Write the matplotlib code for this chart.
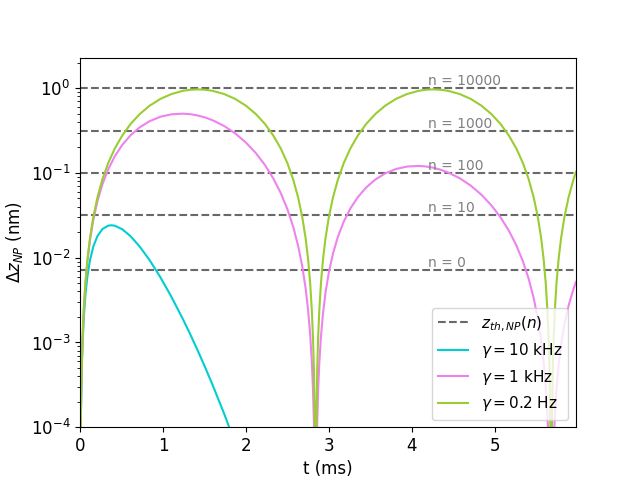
import matplotlib
matplotlib.use("Agg")
import matplotlib.pyplot as plt

# time axis (ms) shared by the two slow curves
t = [0.001, 0.002, 0.004, 0.007, 0.012, 0.02, 0.03, 0.045, 0.065, 0.09, 0.12, 0.16, 0.21,
     0.27, 0.34, 0.42, 0.51, 0.61, 0.72, 0.84, 0.97, 1.1, 1.24, 1.33, 1.42,
     1.51, 1.60, 1.74, 1.87, 2.00, 2.12, 2.23, 2.33, 2.42, 2.50, 2.57, 2.63, 2.68, 2.72,
     2.75, 2.775, 2.795, 2.81, 2.82, 2.828, 2.833, 2.836, 2.838, 2.839,
     2.841, 2.842, 2.844, 2.847, 2.852, 2.86, 2.87, 2.885, 2.905, 2.93, 2.96, 3.00, 3.05,
     3.11, 3.18, 3.26, 3.35, 3.45, 3.56, 3.68, 3.81, 3.94, 4.08, 4.17, 4.26,
     4.35, 4.44, 4.58, 4.71, 4.84, 4.96, 5.07, 5.17, 5.26, 5.34, 5.41, 5.47, 5.52, 5.56,
     5.59, 5.615, 5.635, 5.65, 5.66, 5.668, 5.673, 5.676, 5.678, 5.679,
     5.681, 5.682, 5.684, 5.687, 5.692, 5.70, 5.71, 5.725, 5.745, 5.77, 5.80, 5.84, 5.89,
     5.95, 5.98]

dz_green = [1.19e-6, 4.75e-6, 1.90e-5, 5.82e-5, 1.71e-4, 4.75e-4, 1.07e-3, 2.40e-3, 5.01e-3,
            9.58e-3, 0.0170, 0.0301, 0.0514, 0.0840, 0.131, 0.195, 0.277, 0.379, 0.496, 0.623,
            0.749, 0.853, 0.932, 0.960, 0.970,
            0.960, 0.932, 0.853, 0.749, 0.623, 0.496, 0.379, 0.277, 0.195, 0.131, 0.0840,
            0.0514, 0.0301, 0.0170, 9.58e-3, 5.01e-3, 2.40e-3, 1.07e-3, 4.75e-4, 1.71e-4,
            5.82e-5, 1.90e-5, 4.75e-6, 1.19e-6,
            1.19e-6, 4.75e-6, 1.90e-5, 5.82e-5, 1.71e-4, 4.75e-4, 1.07e-3, 2.40e-3, 5.01e-3,
            9.58e-3, 0.0170, 0.0301, 0.0514, 0.0840, 0.131, 0.195, 0.277, 0.379, 0.496, 0.623,
            0.749, 0.853, 0.932, 0.960, 0.970,
            0.960, 0.932, 0.853, 0.749, 0.623, 0.496, 0.379, 0.277, 0.195, 0.131, 0.0840,
            0.0514, 0.0301, 0.0170, 9.58e-3, 5.01e-3, 2.40e-3, 1.07e-3, 4.75e-4, 1.71e-4,
            5.82e-5, 1.90e-5, 4.75e-6, 1.19e-6,
            1.19e-6, 4.75e-6, 1.90e-5, 5.82e-5, 1.71e-4, 4.75e-4, 1.07e-3, 2.40e-3, 5.01e-3,
            9.58e-3, 0.0170, 0.0301, 0.0514, 0.0840, 0.103]

dz_magenta = [1.19e-6, 4.74e-6, 1.895e-5, 5.80e-5, 1.699e-4, 4.70e-4, 1.052e-3, 2.349e-3,
              4.846e-3, 9.161e-3, 0.0160, 0.02776, 0.04629, 0.07338, 0.1104, 0.1579, 0.2149,
              0.2791, 0.3459, 0.4090, 0.4611, 0.4924, 0.5014, 0.4939, 0.4769,
              0.4514, 0.4188, 0.3576, 0.2940, 0.2290, 0.1718, 0.1241, 0.0865, 0.05807, 0.03749,
              0.02324, 0.01380, 7.873e-3, 4.362e-3, 2.423e-3, 1.250e-3, 5.938e-4, 2.620e-4,
              1.159e-4, 4.155e-5, 1.410e-5, 4.598e-6, 1.149e-6, 2.870e-7,
              2.876e-7, 1.146e-6, 4.580e-6, 1.402e-5, 4.106e-5, 1.136e-4, 2.543e-4, 5.678e-4,
              1.171e-3, 2.214e-3, 3.868e-3, 6.709e-3, 0.01119, 0.01774, 0.02669, 0.03816,
              0.05194, 0.06745, 0.08360, 0.09887, 0.1114, 0.1190, 0.1212, 0.1194, 0.1153,
              0.1091, 0.1012, 0.08643, 0.07106, 0.05535, 0.04152, 0.02999, 0.02091, 0.01404,
              9.061e-3, 5.617e-3, 3.335e-3, 1.903e-3, 1.054e-3, 5.856e-4, 3.021e-4, 1.435e-4,
              6.333e-5, 2.801e-5, 1.004e-5, 3.408e-6, 1.111e-6, 2.777e-7, 6.937e-8,
              6.95e-8, 2.77e-7, 1.107e-6, 3.388e-6, 9.926e-6, 2.746e-5, 6.146e-5, 1.372e-4,
              2.831e-4, 5.352e-4, 9.349e-4, 1.622e-3, 2.704e-3, 4.287e-3, 5.178e-3]

# the fast-damped curve only matters for the first 2 ms
t_cyan = [0.001, 0.002, 0.004, 0.007, 0.012, 0.02, 0.03, 0.045, 0.065, 0.09, 0.12, 0.16,
          0.21, 0.27, 0.34, 0.38, 0.42, 0.51, 0.61, 0.72, 0.84, 0.97, 1.1, 1.24, 1.33, 1.42,
          1.51, 1.60, 1.74, 1.87, 2.00]
dz_cyan = [1.181e-6, 4.701e-6, 1.861e-5, 5.616e-5, 1.609e-4, 4.295e-4, 9.193e-4, 1.918e-3,
           3.617e-3, 6.110e-3, 9.325e-3, 0.01351, 0.01799, 0.02177, 0.02391, 0.02416, 0.02385,
           0.02166, 0.01793, 0.01354, 9.339e-3, 5.862e-3, 3.488e-3, 1.891e-3, 1.243e-3,
           8.003e-4, 5.052e-4, 3.127e-4, 1.425e-4, 6.500e-5, 2.827e-5]

# thermal amplitude levels
n_levels = [0, 10, 100, 1000, 10000]
z_th = [0.0071, 0.0316, 0.1, 0.316, 1.0]

fig, ax = plt.subplots(figsize=(6.4, 4.8), dpi=100)

for i in range(len(z_th)):
    ax.axhline(z_th[i], color='dimgray', ls='--', lw=1.5,
               label=r'$z_{th,NP}(n)$' if i == 0 else None)
    ax.text(4.2, z_th[i], 'n = %d' % n_levels[i], color='gray', fontsize=10,
            ha='left', va='bottom')

ax.plot(t_cyan, dz_cyan, color='darkturquoise', label=r'$\gamma = 10$ kHz')
ax.plot(t, dz_magenta, color='violet', label=r'$\gamma = 1$ kHz')
ax.plot(t, dz_green, color='yellowgreen', label=r'$\gamma = 0.2$ Hz')

ax.set_yscale('log')
ax.set_ylim(1e-4, 2.3)
ax.set_xlim(0, 5.98)
ax.set_xlabel('t (ms)', fontsize=12)
ax.set_ylabel(r'$\Delta z_{NP}$ (nm)', fontsize=12)
ax.tick_params(labelsize=12)
ax.legend(loc='lower right', fontsize=11)

plt.savefig('out.png')
